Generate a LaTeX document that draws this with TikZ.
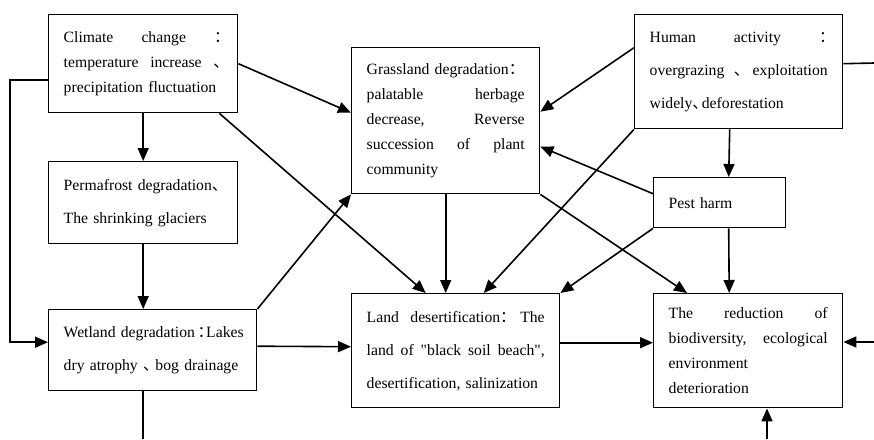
\documentclass[tikz,border=0pt]{standalone}
\usepackage{fontspec}
\setmainfont{Liberation Serif}
\newfontfamily\cjk{Noto Sans CJK SC}
\newcommand\dun{\makebox[0.6em][l]{\cjk 、}}
\newcommand\mao{\makebox[0.55em][l]{\cjk ：}}
\hyphenpenalty=10000
\usetikzlibrary{arrows.meta}

\begin{document}
\begin{tikzpicture}[x=1pt, y=-1pt, line width=1.6pt, >={Triangle[length=13pt,width=11pt]},
    box/.style={draw, line width=1.4pt, anchor=north west, inner xsep=15pt, inner ysep=0pt, align=left, font=\fontsize{15.7}{25}\selectfont},
    wide/.style={box, font=\fontsize{15.7}{33}\selectfont}]
    \useasboundingbox (0,0) rectangle (874,439);

    \node (climate) [box, text width=159, minimum height=98] at (48,14) {Climate\hfill change\hfill\mao\\ temperature\hfill increase\hfill\dun\\ precipitation fluctuation};
    \node (grassland) [box, text width=158, minimum height=146] at (351,47) {Grassland degradation\mao\\ palatable\hfill herbage\\ decrease,\hfill Reverse\\ succession\hfill of\hfill plant\\ community};
    \node (human) [wide, text width=178, minimum height=114] at (634,14) {Human\hfill activity\hfill\mao\\ overgrazing\hfill\dun\hfill exploitation\\ widely\dun deforestation};
    \node (permafrost) [wide, text width=159, minimum height=82] at (48,161) {Permafrost~degradation\dun\\ The shrinking glaciers};
    \node (pest) [box, text width=102, minimum height=50] at (653,177) {Pest harm};
    \node (wetland) [wide, text width=178, minimum height=81] at (48,309) {Wetland~degradation\,\mao Lakes\\ dry~atrophy~\dun\hspace{3pt}bog~drainage};
    \node (land) [wide, text width=178, minimum height=114] at (351,293) {Land\hfill desertification\mao\hfill The\\ land\hfill of\hfill \textquotedbl black\hfill soil\hfill beach\textquotedbl,\\ desertification, salinization};
    \node (bio) [box, text width=159, minimum height=114] at (653,293) {The\hfill reduction\hfill of\\ biodiversity,\hfill ecological\\ environment\\ deterioration};

    \coordinate (wetout) at (143,439);
    \coordinate (humanout) at (874,63);
    \coordinate (bioin) at (874,342);
    \coordinate (bioup) at (767,439);

    \draw [->] (climate.south) -- (permafrost.north);
    \draw [->] (permafrost.south) -- (permafrost.south |- wetland.north);
    \draw [->] ([yshift=-16pt]climate.west) -- ++(-38,0) |- ([yshift=8pt]wetland.west);
    \draw [->] (climate.east) -- ([yshift=8pt]grassland.west);
    \draw [->] ([xshift=-19pt]climate.south east) -- ([xshift=-30pt]land.north);
    \draw [->] ([yshift=24pt]human.west) -- ([yshift=9pt]grassland.east);
    \draw [->] ([xshift=-9pt]human.south) -- ([xshift=9pt]pest.north);
    \draw [->] (human.south west) -- ([xshift=28pt]land.north);
    \draw [->] ([yshift=9pt]pest.west) -- ([yshift=-26pt]grassland.east);
    \draw [->] (pest.south west) -- (land.north east);
    \draw [->] ([xshift=9pt]pest.south) -- ([xshift=-19pt]bio.north);
    \draw [->] (grassland.south) -- (grassland.south |- land.north);
    \draw [->] (grassland.south east) -- ([xshift=34pt]bio.north west);
    \draw [->] (wetland.north east) -- (grassland.south west);
    \draw [->] ([yshift=4pt]wetland.east) -- ([yshift=4pt]land.west);
    \draw [->] ([yshift=8pt]land.east) -- ([yshift=8pt]bio.west);
    \draw (wetout |- wetland.south) -- (wetout);
    \draw ([yshift=8pt]human.east) -- (humanout);
    \draw [->] (bioin) -- (bioin -| bio.east);
    \draw [->] (bioup) -- (bioup |- bio.south);
\end{tikzpicture}
\end{document}
